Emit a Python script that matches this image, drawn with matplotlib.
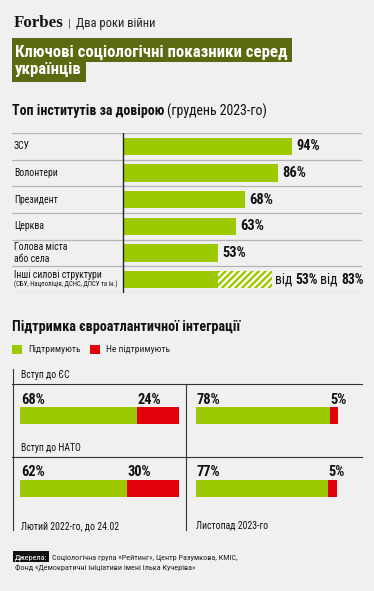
import matplotlib
matplotlib.use("Agg")
import matplotlib.pyplot as plt
from matplotlib.patches import Rectangle

plt.rcParams['font.family'] = ['Roboto Condensed', 'Roboto', 'DejaVu Sans']
plt.rcParams['hatch.linewidth'] = 1.6

# --- data ---
trust_labels = ["ЗСУ", "Волонтери", "Президент", "Церква", "Голова міста\nабо села", "Інші силові структури"]
trust_values = [94, 86, 68, 63, 53, 53]
trust_range_hi = 83  # "Інші силові структури": від 53% до 83%

groups = ["Вступ до ЄС", "Вступ до НАТО"]
feb2022_yes = [68, 62]
feb2022_no = [24, 30]
nov2023_yes = [78, 77]
nov2023_no = [5, 5]
period_labels = ["Лютий 2022-го, до 24.02", "Листопад 2023-го"]

BG = "#f0f0f0"
GREEN = "#9cc900"
RED = "#e2000a"
OLIVE = "#5b6a10"
W, H = 374, 591

fig = plt.figure(figsize=(W / 100, H / 100), dpi=100, facecolor=BG)

def px_axes(x0, y0, x1, y1):
    a = fig.add_axes([x0 / W, 1 - y1 / H, (x1 - x0) / W, (y1 - y0) / H])
    a.axis('off')
    return a

ax0 = px_axes(0, 0, W, H)
ax0.set_xlim(0, W)
ax0.set_ylim(H, 0)

# header
ax0.text(14, 27, "Forbes", family="Liberation Serif", weight="bold", fontsize=12.2, color="#111")
ax0.text(68, 27, "|", fontsize=8, color="#333")
ax0.text(76.5, 27, "Два роки війни", fontsize=9, color="#222")

# title box
ax0.add_patch(Rectangle((12, 38), 280, 24, color=OLIVE, lw=0))
ax0.add_patch(Rectangle((12, 61), 74, 21, color=OLIVE, lw=0))
ax0.text(15, 57, "Ключові соціологічні показники серед", color="white",
         weight="bold", fontsize=12.1)
ax0.text(15, 74, "українців", color="white", weight="bold", fontsize=12.1)

# section 1 title
t = ax0.text(12, 115.5, "Топ інститутів за довірою", weight="bold", fontsize=10, color="#111")
fig.canvas.draw()
r = fig.canvas.get_renderer()
bb = t.get_window_extent(r)
ax0.text(bb.x1 + 3, 115.5, "(грудень 2023-го)", fontsize=10, color="#111")

# --- trust bar chart ---
ax1 = px_axes(12, 133, 362, 293)
sc = 1.8  # px per percent
ax1.set_xlim(-(123 - 12) / sc, (362 - 123) / sc)
n = len(trust_labels)
ax1.set_ylim(n - 0.5, -0.5)
ys = list(range(n))
ax1.barh(ys, trust_values, height=0.64, color=GREEN, lw=0)
ax1.barh(ys[-1], trust_range_hi - trust_values[-1], left=trust_values[-1], height=0.64,
         facecolor=GREEN, edgecolor="white", hatch="/////", lw=0)
for b in range(n + 1):
    ax1.axhline(b - 0.5, color="#b5b5b5", lw=0.9)
ax1.axvline(0, color="#222", lw=1)
lab_x = (14 - 123) / sc
for i, (lab, v) in enumerate(zip(trust_labels, trust_values)):
    if i == n - 1:
        ax1.text(lab_x, i - 0.18, lab, fontsize=7, va="center", color="#111")
        ax1.text(lab_x, i + 0.17, "(СБУ, Нацполіція, ДСНС, ДПСУ та ін.)", fontsize=4.9,
                 va="center", color="#111")
        x = trust_range_hi + 1.2
        parts = [("від ", "normal"), (f"{v}%", "bold"), (" від ", "normal"),
                 (f"{trust_range_hi}%", "bold")]
        tx = ax1.transData.transform((x, i))[0]
        for s, wgt in parts:
            tt = ax1.text(tx, ax1.transData.transform((0, i))[1], s, fontsize=9.8,
                          weight=wgt, va="center", transform=None, color="#111")
            tx = tt.get_window_extent(r).x1
    else:
        ax1.text(lab_x, i, lab, fontsize=7, va="center", color="#111", linespacing=1.25)
        ax1.text(v + 2.2, i, f"{v}%", fontsize=10.4, weight="bold", va="center", color="#111")

# --- section 2 ---
ax0.text(12, 331, "Підтримка євроатлантичної інтеграції", weight="bold", fontsize=10.2,
         color="#111")
ax0.add_patch(Rectangle((12, 345), 10, 9, color=GREEN, lw=0))
ax0.text(28, 352.5, "Підтримують", fontsize=6.8, color="#222")
ax0.add_patch(Rectangle((90, 345), 10, 9, color=RED, lw=0))
ax0.text(106, 352.5, "Не підтримують", fontsize=6.8, color="#222")

# panel frame
LC = "#333333"
ax0.plot([12.7, 12.7], [369, 530], color=LC, lw=0.8)
ax0.plot([186, 186], [384, 530], color=LC, lw=0.8)
ax0.plot([12, 362], [384, 384], color=LC, lw=0.8)
ax0.plot([12, 362], [457, 457], color=LC, lw=0.8)
ax0.text(21, 378, groups[0], fontsize=6.9, color="#111")
ax0.text(21, 451, groups[1], fontsize=6.9, color="#111")

sc2 = 1.72
cols = [(12, 186, 20.3, feb2022_yes, feb2022_no, period_labels[0]),
        (186, 362, 195.7, nov2023_yes, nov2023_no, period_labels[1])]
for x0, x1, start, yes, no, plab in cols:
    a = px_axes(x0, 383, x1, 530)
    a.set_xlim((x0 - start) / sc2, (x1 - start) / sc2)
    step = 72.5
    a.set_ylim(1 + (530 - 488) / step, -(415.5 - 383) / step)
    gy = range(len(groups))
    hb = 17 / step
    a.barh(gy, yes, height=hb, color=GREEN, lw=0)
    a.barh(gy, no, left=yes, height=hb, color=RED, lw=0)
    for g, yv, nv in zip(gy, yes, no):
        yb = g - hb / 2 - 3 / step
        a.text(0.3, yb, f"{yv}%", fontsize=10.4, weight="bold", va="baseline", color="#111")
        a.text(yv + 0.3, yb, f"{nv}%", fontsize=10.4, weight="bold", va="baseline",
               color="#111")
    ax0.text(start + 0.5, 529, plab, fontsize=7, color="#111")

# source
ax0.add_patch(Rectangle((13, 551), 36, 11, color="#111", lw=0))
ax0.text(15, 559.5, "Джерела:", fontsize=5.9, color="white")
ax0.text(52, 559.5, "Соціологічна група «Рейтинг», Центр Разумкова, КМІС,", fontsize=5.9,
         color="#222")
ax0.text(15, 570.5, "Фонд «Демократичні ініціативи імені Ілька Кучеріва»", fontsize=5.9,
         color="#222")

fig.savefig("out.png", dpi=100, facecolor=BG)
